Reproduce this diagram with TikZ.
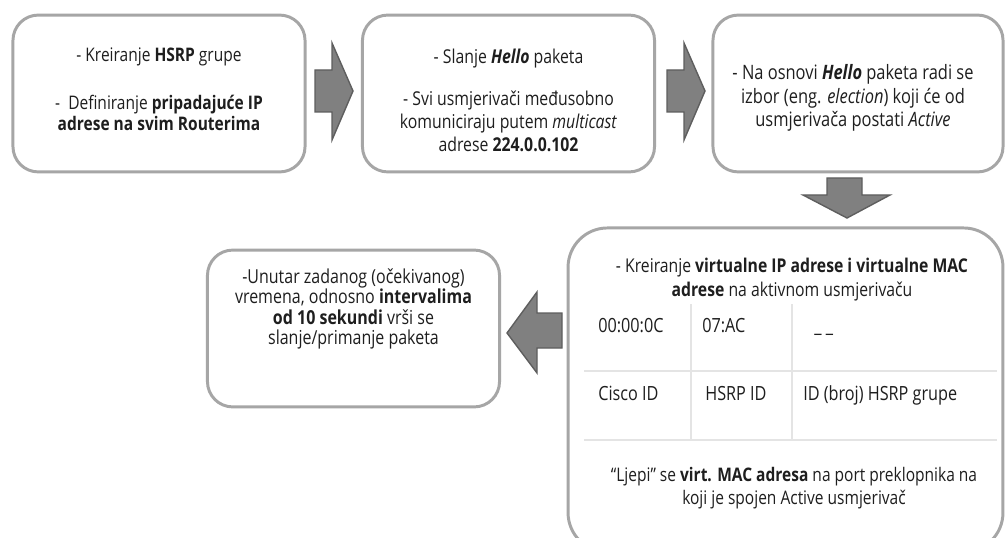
\documentclass[tikz,border=0pt]{standalone}
\usepackage{fontspec}
\setmainfont{Open Sans}[FakeStretch=0.83]
\usetikzlibrary{positioning}
\definecolor{boxgray}{HTML}{A6A6A6}
\definecolor{arrowfill}{HTML}{808080}
\definecolor{arrowline}{HTML}{5E5E5E}
\definecolor{gridgray}{HTML}{E4E4E4}
\definecolor{textgray}{HTML}{1E1E1E}

\begin{document}
\begin{tikzpicture}[x=0.025cm,y=-0.025cm,
  stage/.style={draw=boxgray,line width=2.1pt,rounded corners=18pt,fill=white,
    minimum width=7.3cm,minimum height=3.92cm},
  stagetext/.style={align=center,text=textgray,inner sep=0pt},
  blockarrow/.style={fill=arrowfill,draw=arrowline,line width=1pt,line join=miter},
  cell/.style={anchor=base west,text=textgray,font=\fontsize{13.9}{16}\selectfont,inner sep=0pt},
  grid/.style={draw=gridgray,line width=1pt}]
  \clip (0,0) rectangle (1006,538);
  \fill[white] (0,0) rectangle (1006,538);

  % top row
  \node[stage] (hsrp) at (159,93.5) {};
  \node[stagetext,font=\fontsize{13.3}{15}\selectfont] (hsrptext) at (159,89)
    {- Kreiranje \textbf{HSRP} grupe\\[19pt]
    -~ Definiranje \textbf{pripadajuće IP}\\ \textbf{adrese na svim Routerima}};
  \node[stage] (hello) at (508.5,93.5) {};
  \node[stagetext,font=\fontsize{13.55}{16.4}\selectfont] (hellotext) at (508.5,100)
    {- Slanje \textbf{\textit{Hello}} paketa\\[13.5pt]
    - Svi usmjerivači međusobno\\ komuniciraju putem \textit{multicast}\\
    adrese \textbf{224.0.0.102}};
  \node[stage,minimum width=7.25cm] (elect) at (858,93.5) {};
  \node[stagetext,font=\fontsize{14.1}{16.5}\selectfont] (electtext) at (853,98)
    {- Na osnovi \textbf{\textit{Hello}} paketa radi se\\
    izbor (eng. \textit{election}) koji će od\\ usmjerivača postati \textit{Active}};

  % virtual address box
  \node[stage,minimum width=10.87cm,minimum height=8.1cm,rounded corners=28pt]
    (virt) at (785.5,390) {};
  \node[stagetext,font=\fontsize{13.5}{17}\selectfont] (virttitle) at (792,280)
    {- Kreiranje \textbf{virtualne IP adrese i virtualne MAC}\\
    \textbf{adrese} na aktivnom usmjerivaču};
  \draw[grid] (584,371) -- (997,371);
  \draw[grid] (584,440) -- (997,440);
  \draw[grid] (691,304) -- (691,440);
  \draw[grid] (792,304) -- (792,440);
  \node[cell] (cisco) at (598,332) {00:00:0C};
  \node[cell] (hsrpid) at (702,332) {07:AC};
  \node[cell] (grp) at (814,332) {\_\kern3pt\_};
  \node[cell] (ciscolbl) at (598,400) {Cisco ID};
  \node[cell] (hsrplbl) at (705,400) {HSRP ID};
  \node[cell] (grplbl) at (803,400) {ID (broj) HSRP grupe};
  \node[stagetext,font=\fontsize{13.3}{16.4}\selectfont] (port) at (794,488)
    {“Ljepi” se \textbf{virt. MAC adresa} na port preklopnika na\\
    koji je spojen Active usmjerivač};

  % timer box
  \node[stage] (timer) at (353.5,328.5) {};
  \node[stagetext,font=\fontsize{13.7}{14.5}\selectfont] (timertext) at (353.5,309)
    {-Unutar zadanog (očekivanog)\\
    vremena, odnosno \textbf{intervalima}\\ \textbf{od 10 sekundi} vrši se\\
    slanje/primanje paketa};

  % arrows
  \filldraw[blockarrow] (315,70) -- (332,70) -- (332,43) -- (353,91) -- (332,140)
    -- (332,112) -- (315,112) -- cycle;
  \filldraw[blockarrow] (667,70) -- (684,70) -- (684,43) -- (705,91) -- (684,140)
    -- (684,112) -- (667,112) -- cycle;
  \filldraw[blockarrow] (827,178) -- (862,178) -- (862,195) -- (890,195) -- (847,218)
    -- (803,195) -- (827,195) -- cycle;
  \filldraw[blockarrow] (562,313) -- (537,313) -- (537,292) -- (507,333) -- (537,373)
    -- (537,348) -- (562,348) -- cycle;
\end{tikzpicture}
\end{document}
